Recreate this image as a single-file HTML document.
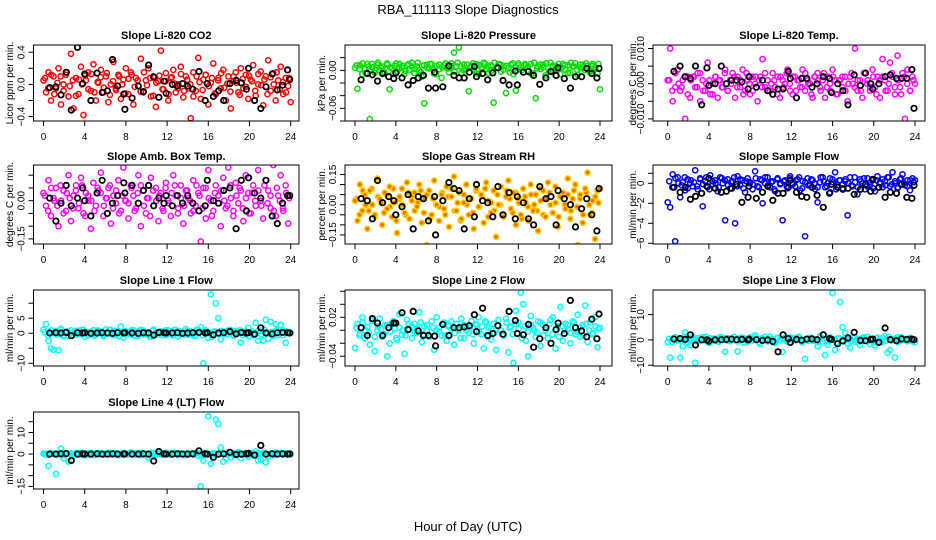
<!DOCTYPE html>
<html><head><meta charset="utf-8">
<style>
html,body{margin:0;padding:0;background:#fff;}
svg{display:block;font-family:"Liberation Sans",Arial,sans-serif;}
</style></head>
<body>
<svg id="chart" width="936" height="540" viewBox="0 0 936 540">
<text x="468" y="14" text-anchor="middle" font-size="13">RBA_111113  Slope Diagnostics</text>
<text x="468" y="531" text-anchor="middle" font-size="13">Hour of Day (UTC)</text>
</svg>
<script>
const xTicks = [0,4,8,12,16,20,24];
const blackHours = [0.6,1.2,1.7,2.2,2.7,3.3,3.8,4.0,4.6,5.2,5.7,6.2,6.7,7.2,7.8,7.9,8.6,9.2,9.7,10.2,10.7,11.2,11.7,11.9,12.5,13.0,13.5,14.0,14.5,15.1,15.7,15.9,16.5,17.0,17.5,18.1,18.7,19.2,19.7,19.9,20.5,21.1,21.6,22.2,22.7,23.2,23.7,23.9];
const sampleCount = 100;
const coreCount = 80;

const co2 = [0.05,-0.1,0.15,-0.2,0.1,-0.05,0.2,-0.25,0.0,0.12,-0.15,0.38,-0.3,0.08,-0.12,0.22,-0.38,0.05,0.15,-0.08,0.25,-0.2,0.02,0.18,-0.1,0.1,-0.22,0.0,0.28,-0.05,0.12,-0.18,0.06,0.2,-0.12,0.15,-0.25,0.08,-0.02,0.32,-0.1,0.05,0.2,-0.15,0.1,-0.28,0.04,0.42,-0.06,0.14,-0.2,0.08,0.18,-0.1,0.0,0.22,-0.16,0.1,-0.05,-0.42,0.15,-0.08,0.33,-0.18,0.06,0.12,-0.25,0.02,0.26,-0.12,0.08,-0.05,0.18,-0.2,0.1,-0.3,0.04,0.15,-0.1,0.2,-0.05,0.12,-0.18,0.06,0.24,-0.14,0.0,0.16,-0.26,0.1,0.3,-0.08,0.14,-0.2,0.05,0.22,-0.12,0.08,-0.02,-0.22];
const co2Core = [0.08,-0.05,0.12,-0.12,0.02,0.1,-0.08,0.15,-0.02,0.05,-0.14,0.06,0.0,0.11,-0.06,0.13,-0.1,0.03,0.09,-0.04,0.14,-0.13,0.04,-0.07,0.1,0.0,-0.11,0.07,0.12,-0.03,0.05,-0.09,0.15,-0.01,0.08,-0.14,0.02,0.11,-0.06,0.04,-0.12,0.09,0.01,-0.05,0.13,-0.08,0.06,0.0,-0.15,0.1,0.03,-0.07,0.12,-0.02,0.08,-0.11,0.05,0.14,-0.04,0.01,-0.09,0.1,0.02,-0.13,0.07,-0.03,0.11,0.04,-0.08,0.13,-0.01,0.06,-0.12,0.09,0.0,0.15,-0.06,0.03,-0.1,0.08];
const co2Black = [-0.04,-0.03,-0.13,0.15,-0.32,0.46,0.01,0.13,-0.2,0.14,-0.1,-0.08,0.31,-0.02,-0.12,-0.31,-0.17,-0.02,-0.09,0.24,0.09,-0.16,0.04,-0.11,0.0,-0.02,0.01,-0.02,-0.06,0.16,-0.2,0.01,-0.15,-0.08,-0.2,0.01,0.05,0.02,-0.06,0.2,-0.2,-0.3,-0.03,0.13,-0.07,-0.01,0.18,0.06];

const press = [0.004,-0.029,0.008,-0.006,0.002,0.01,-0.077,0.005,-0.004,0.009,0.0,0.006,-0.005,0.011,-0.03,0.003,0.007,-0.002,0.01,0.004,-0.006,0.008,0.001,0.012,-0.004,0.006,0.0,-0.01,-0.052,0.009,0.003,0.01,-0.005,0.007,0.002,-0.012,0.008,0.004,-0.003,0.011,0.028,0.006,0.036,-0.004,0.009,0.002,-0.033,0.007,0.0,0.01,-0.006,0.005,0.012,0.002,-0.004,0.008,-0.051,0.004,0.01,-0.002,0.007,-0.036,0.003,0.009,-0.006,-0.032,0.011,0.005,-0.003,0.008,0.0,0.01,-0.005,-0.044,0.006,0.002,0.009,-0.008,0.004,0.012,-0.002,0.007,0.003,-0.006,0.01,0.001,0.008,-0.004,0.006,0.011,-0.007,0.004,0.009,0.0,0.007,-0.003,0.01,0.005,-0.005,-0.03];
const pressCore = [0.008,0.002,0.011,-0.004,0.006,0.01,0.0,0.012,0.004,-0.002,0.009,0.005,-0.005,0.011,0.003,0.007,-0.001,0.01,0.006,0.002,0.012,-0.003,0.008,0.004,0.01,0.001,-0.006,0.009,0.005,0.011,0.003,0.007,-0.002,0.012,0.006,0.0,0.009,0.004,0.011,-0.004,0.008,0.002,0.01,0.006,-0.001,0.012,0.005,0.009,0.001,0.007,-0.003,0.011,0.004,0.008,0.0,0.01,0.006,-0.005,0.012,0.003,0.009,0.005,0.011,-0.002,0.007,0.002,0.01,0.004,0.008,-0.004,0.012,0.006,0.001,0.009,0.005,0.011,-0.001,0.007,0.003,0.01];
const pressBlack = [-0.015,-0.005,-0.007,-0.017,-0.005,-0.01,-0.013,-0.004,-0.012,-0.023,-0.016,-0.012,-0.008,-0.028,-0.003,-0.028,-0.026,0.007,-0.008,-0.012,-0.012,-0.003,0.006,-0.01,-0.005,-0.015,-0.004,0.004,-0.016,-0.023,-0.001,-0.023,-0.003,-0.002,-0.008,-0.022,-0.012,-0.002,-0.008,0.004,-0.013,-0.028,-0.01,-0.01,0.003,-0.005,-0.012,0.003];

const temp = [0.001,0.01,-0.005,-0.001,0.004,-0.002,0.001,-0.01,0.002,-0.004,0.002,-0.001,0.003,-0.005,0.001,-0.002,0.006,-0.003,0.0,0.002,-0.004,0.001,-0.001,0.004,-0.002,0.001,0.003,-0.004,0.002,-0.001,0.004,-0.002,0.001,-0.003,0.002,0.0,-0.005,0.002,0.007,-0.001,0.001,-0.002,0.003,-0.001,0.002,-0.004,0.001,0.0,0.004,-0.002,-0.003,0.002,0.001,-0.001,0.004,-0.002,0.001,0.0,-0.004,0.002,0.003,-0.001,0.001,-0.004,0.002,-0.002,0.004,0.001,-0.003,0.001,-0.001,0.002,-0.005,0.002,0.0,0.01,-0.002,0.001,-0.004,0.003,0.001,-0.002,0.004,-0.001,0.002,-0.004,0.007,0.001,-0.002,0.006,0.002,-0.003,0.008,-0.001,0.003,-0.01,0.004,-0.002,0.002,0.0];
const tempCore = [0.001,-0.002,0.003,0.0,-0.001,0.002,-0.003,0.001,0.002,-0.001,0.003,-0.002,0.0,0.001,-0.003,0.002,0.001,-0.001,0.003,-0.002,0.0,0.002,-0.001,0.001,-0.003,0.003,0.0,-0.002,0.002,0.001,-0.001,0.003,-0.002,0.0,0.001,-0.003,0.002,-0.001,0.003,0.0,0.002,-0.002,0.001,-0.001,0.003,0.0,-0.003,0.002,0.001,-0.002,0.003,-0.001,0.0,0.002,-0.003,0.001,0.002,-0.002,0.0,0.003,-0.001,0.001,-0.002,0.003,0.0,-0.001,0.002,-0.003,0.001,0.002,-0.002,0.0,0.003,-0.001,0.001,-0.003,0.002,0.0,-0.002,0.001];
const tempBlack = [0.0035,0.005,0.002,0.0015,0.005,-0.006,0.0045,-0.0005,0.0,0.005,0.0,0.001,0.001,0.0005,-0.0015,0.002,-0.001,0.001,-0.002,-0.003,-0.0015,-0.0015,0.0035,0.0015,-0.004,0.0015,0.0015,-0.001,0.0,0.002,0.0015,-0.0025,0.0,-0.002,-0.006,0.0025,-0.0005,0.003,0.0,-0.0015,0.0,0.002,0.0025,0.0015,0.0015,0.0015,0.004,-0.007];

const amb = [0.03,-0.02,0.08,-0.06,0.01,0.05,-0.1,0.0,0.04,-0.04,0.1,-0.08,0.02,0.06,-0.03,0.09,-0.05,0.03,0.0,-0.11,0.07,-0.02,0.04,0.11,-0.06,0.01,0.05,-0.09,0.02,-0.01,0.08,-0.04,0.13,0.0,-0.07,0.06,0.02,-0.03,0.1,-0.1,0.04,-0.05,0.01,0.09,-0.02,0.05,-0.08,0.03,-0.04,0.07,0.0,-0.06,0.1,0.02,-0.03,0.06,-0.09,0.04,0.01,-0.05,0.08,-0.02,0.03,-0.16,0.05,-0.07,0.12,0.0,-0.04,0.06,0.02,-0.1,0.09,-0.03,0.13,0.01,-0.06,0.07,-0.01,0.04,-0.08,0.1,0.03,-0.05,0.06,-0.02,0.12,0.0,-0.07,0.08,0.04,-0.03,0.14,-0.06,0.02,0.1,-0.04,0.06,-0.09,0.17];
const ambCore = [0.02,-0.04,0.05,0.0,-0.02,0.06,-0.05,0.03,0.01,-0.03,0.04,-0.01,0.06,-0.06,0.02,0.0,-0.04,0.05,0.03,-0.02,0.01,0.06,-0.03,0.04,-0.05,0.02,0.0,-0.01,0.05,-0.04,0.03,0.06,-0.02,0.01,-0.06,0.04,0.0,0.02,-0.03,0.05,-0.01,0.03,0.06,-0.05,0.01,-0.02,0.04,0.0,-0.04,0.06,0.02,-0.03,0.05,0.01,-0.06,0.03,-0.01,0.04,0.0,-0.02,0.06,-0.04,0.02,0.05,-0.03,0.01,-0.05,0.03,0.0,0.04,-0.02,0.06,-0.01,0.02,-0.04,0.05,0.0,-0.03,0.03,0.01];
const ambBlack = [0.01,-0.08,-0.01,0.06,-0.02,0.01,0.05,0.0,-0.06,0.03,0.08,-0.05,-0.01,0.02,0.07,0.03,0.06,-0.01,0.04,0.06,-0.02,0.01,-0.01,0.02,-0.02,0.02,-0.01,0.02,-0.01,-0.04,-0.02,0.08,0.0,-0.01,0.04,0.05,-0.11,0.08,-0.04,0.09,0.03,0.01,0.08,-0.06,-0.09,-0.01,0.02,0.02];

const rh = [0.02,-0.08,0.1,-0.03,0.05,-0.12,0.07,0.0,-0.05,0.13,0.03,-0.1,0.06,-0.02,0.09,-0.06,0.01,-0.14,0.04,0.08,-0.04,0.11,-0.07,0.02,0.06,-0.01,0.1,-0.09,0.03,-0.2,0.07,-0.05,0.12,0.0,-0.08,0.05,-0.02,0.09,-0.11,0.04,0.14,-0.03,0.06,-0.07,0.01,0.1,-0.05,0.03,-0.12,0.08,-0.01,0.05,-0.09,0.11,0.02,-0.04,0.07,-0.16,0.0,0.09,-0.06,0.04,0.12,-0.02,0.06,-0.1,0.03,-0.05,0.08,0.01,-0.08,0.1,-0.03,0.05,-0.13,0.02,0.07,-0.06,0.11,0.0,-0.04,0.09,-0.11,0.04,0.06,-0.02,0.13,-0.07,0.03,0.1,-0.2,0.05,-0.09,0.08,0.16,-0.05,0.02,-0.17,0.07,0.08];
const rhCore = [0.03,-0.05,0.07,0.0,-0.03,0.08,-0.06,0.04,0.01,-0.04,0.05,-0.01,0.08,-0.08,0.03,0.0,-0.05,0.06,0.04,-0.03,0.01,0.07,-0.04,0.05,-0.07,0.03,0.0,-0.01,0.06,-0.05,0.04,0.08,-0.03,0.01,-0.08,0.05,0.0,0.03,-0.04,0.07,-0.01,0.04,0.08,-0.06,0.01,-0.03,0.05,0.0,-0.05,0.07,0.03,-0.04,0.06,0.01,-0.07,0.04,-0.01,0.05,0.0,-0.03,0.08,-0.05,0.03,0.06,-0.04,0.01,-0.06,0.04,0.0,0.05,-0.03,0.07,-0.01,0.03,-0.05,0.06,0.0,-0.04,0.04,0.01];
const rhBlack = [0.03,0.02,-0.07,0.12,0.01,0.04,0.02,-0.05,-0.01,0.05,-0.12,0.04,0.03,-0.08,0.04,-0.15,0.02,0.11,0.08,0.07,-0.12,0.03,-0.06,0.1,0.02,0.01,-0.06,0.09,-0.05,0.06,-0.07,0.04,0.01,-0.07,-0.1,0.09,0.03,0.04,-0.1,0.07,0.03,0.0,-0.11,-0.02,0.03,-0.05,-0.13,0.08];

const flow = [-1.9,-2.4,0.9,-5.8,0.6,-1.4,0.1,-0.7,0.4,0.0,-0.3,1.3,-0.6,0.5,-2.3,0.2,-0.4,0.8,-0.1,0.3,-0.8,0.6,0.0,-3.7,0.4,-0.5,0.2,-4.0,0.7,-0.2,0.3,-0.9,0.5,0.1,-0.6,1.2,-0.3,0.4,-2.0,0.0,0.6,-0.4,0.2,-0.8,0.5,-0.1,-3.7,0.3,-0.5,0.7,0.0,-0.3,0.4,-0.7,0.2,-5.3,0.5,-0.2,0.3,-0.6,-1.9,0.1,0.6,-0.4,0.0,-0.9,0.4,1.1,-0.2,0.3,-0.5,0.2,-3.2,0.6,-0.3,0.1,-1.1,0.4,0.0,-0.6,0.5,-0.2,0.3,-0.8,0.7,0.1,-0.4,0.2,0.6,-0.3,1.1,0.0,-0.5,0.4,0.9,-0.2,0.3,-0.7,0.5,0.3];
const flowCore = [0.2,-0.4,0.5,0.0,-0.2,0.6,-0.5,0.3,0.1,-0.3,0.4,-0.1,0.6,-0.6,0.2,0.0,-0.4,0.5,0.3,-0.2,0.1,0.6,-0.3,0.4,-0.5,0.2,0.0,-0.1,0.5,-0.4,0.3,0.6,-0.2,0.1,-0.6,0.4,0.0,0.2,-0.3,0.5,-0.1,0.3,0.6,-0.5,0.1,-0.2,0.4,0.0,-0.4,0.6,0.2,-0.3,0.5,0.1,-0.6,0.3,-0.1,0.4,0.0,-0.2,0.6,-0.4,0.2,0.5,-0.3,0.1,-0.5,0.3,0.0,0.4,-0.2,0.6,-0.1,0.2,-0.4,0.5,0.0,-0.3,0.3,0.1];
const flowBlack = [-0.4,-0.9,-0.4,-1.6,-1.3,-1.0,-0.3,0.5,-0.5,-0.9,-0.8,-0.5,-0.1,-1.9,-1.4,-0.3,-1.5,-0.9,-0.3,-1.7,-1.0,-1.0,-0.4,0.3,-0.9,-1.3,-1.4,-0.4,-1.2,-2.4,-1.0,-0.1,-0.4,-0.6,-0.5,-1.1,-0.6,-0.1,-0.8,0.4,-0.4,-1.4,-0.9,-1.0,-0.1,-1.4,-1.5,-0.2];

const line1 = [1.2,3.0,-2.5,-5.0,-5.5,0.8,-5.6,1.5,-0.6,0.3,-0.8,1.0,0.2,-0.5,0.9,-0.3,1.2,0.0,-0.7,0.5,1.0,-0.4,0.6,0.1,-0.9,1.3,0.2,-0.3,0.8,-0.6,0.4,2.2,-1.5,0.7,0.0,-0.5,1.1,0.3,-0.8,0.6,0.9,-0.2,0.4,-1.0,1.2,0.1,-0.4,0.7,0.0,-0.6,1.0,0.3,-0.7,0.5,0.8,-0.3,0.2,1.4,-0.5,0.6,0.0,-0.9,1.1,2.0,-10.0,0.4,-1.5,13.0,0.5,10.0,5.0,-2.0,0.6,-0.3,1.0,0.2,-0.6,0.8,0.0,-3.0,0.5,-0.4,1.8,0.2,-0.7,3.5,-2.5,0.9,-2.4,4.5,-1.8,3.8,0.5,3.0,-0.6,2.8,1.0,-3.2,0.4,0.2];
const line1Core = [0.4,-0.8,1.0,0.0,-0.4,1.2,-1.0,0.6,0.2,-0.6,0.8,-0.2,1.2,-1.2,0.4,0.0,-0.8,1.0,0.6,-0.4,0.2,1.2,-0.6,0.8,-1.0,0.4,0.0,-0.2,1.0,-0.8,0.6,1.2,-0.4,0.2,-1.2,0.8,0.0,0.4,-0.6,1.0,-0.2,0.6,1.2,-1.0,0.2,-0.4,0.8,0.0,-0.8,1.2,0.4,-0.6,1.0,0.2,-1.2,0.6,-0.2,0.8,0.0,-0.4,1.2,-0.8,0.4,1.0,-0.6,0.2,-1.0,0.6,0.0,0.8,-0.4,1.2,-0.2,0.4,-0.8,1.0,0.0,-0.6,0.6,0.2];
const line1Black = [0.1,0.2,0.1,0.3,-0.8,0.2,0.1,0.2,0.0,0.1,0.2,0.1,0.0,0.2,0.1,0.2,0.1,0.0,0.2,0.1,-0.6,0.3,0.2,0.1,0.1,0.2,0.0,0.1,0.2,0.3,0.1,0.2,-0.5,0.1,0.2,0.6,-0.2,0.3,0.1,0.2,-0.3,1.8,0.1,-0.2,0.2,0.3,0.2,0.1];

const line2 = [-0.027,0.01,-0.005,0.02,-0.012,0.005,-0.022,0.015,-0.032,0.0,0.018,-0.01,0.008,-0.04,-0.02,0.012,0.003,-0.015,0.025,-0.007,-0.036,0.016,0.002,-0.012,0.01,-0.004,0.028,-0.018,0.006,0.0,-0.01,0.014,-0.03,0.02,0.004,-0.008,0.012,-0.016,0.008,0.002,-0.022,0.01,0.0,0.018,-0.012,0.006,-0.004,0.014,-0.02,0.008,0.02,-0.006,-0.028,0.012,0.004,-0.014,0.01,-0.03,0.016,0.0,-0.008,0.018,-0.034,0.006,-0.05,0.03,0.012,0.058,0.04,-0.016,-0.04,0.022,0.004,-0.01,0.014,-0.024,0.008,0.0,-0.012,0.016,0.02,-0.028,0.006,0.036,-0.016,0.01,0.002,-0.02,0.014,-0.006,0.024,-0.01,0.008,0.038,-0.018,0.012,-0.004,0.02,-0.026,0.004];
const line2Core = [0.004,-0.008,0.012,0.0,-0.004,0.014,-0.01,0.006,0.002,-0.006,0.008,-0.002,0.014,-0.012,0.004,0.0,-0.008,0.01,0.006,-0.004,0.002,0.012,-0.006,0.008,-0.01,0.004,0.0,-0.002,0.01,-0.008,0.006,0.014,-0.004,0.002,-0.012,0.008,0.0,0.004,-0.006,0.01,-0.002,0.006,0.014,-0.01,0.002,-0.004,0.008,0.0,-0.008,0.012,0.004,-0.006,0.01,0.002,-0.012,0.006,-0.002,0.008,0.0,-0.004,0.012,-0.008,0.004,0.01,-0.006,0.002,-0.01,0.006,0.0,0.008,-0.004,0.012,-0.002,0.004,-0.008,0.01,0.0,-0.006,0.006,0.002];
const line2Black = [0.004,-0.008,0.018,0.011,-0.008,0.004,0.011,0.011,0.027,0.001,0.029,-0.001,-0.008,-0.008,-0.009,-0.024,0.009,-0.008,0.004,0.004,0.005,0.007,0.024,-0.002,0.034,-0.008,-0.005,0.007,-0.006,0.029,0.015,-0.005,-0.007,0.009,-0.026,-0.013,0.004,-0.02,0.001,0.011,-0.005,0.046,0.004,-0.001,-0.01,0.017,-0.013,0.025];

const line3 = [-0.8,-7.0,0.5,1.0,-0.3,-7.0,-2.5,3.0,0.4,-2.0,1.2,-9.0,0.6,-0.4,1.0,0.2,-0.9,0.7,-0.2,0.5,-0.6,1.1,0.0,-4.7,0.8,-0.5,0.3,-0.2,-4.5,0.6,0.9,0.1,-0.7,1.0,-0.2,1.8,0.3,-1.5,0.5,0.0,-0.6,1.2,0.2,-0.8,0.6,0.0,-4.7,0.9,-0.4,0.3,0.7,-0.2,1.0,0.1,-0.5,-7.5,0.4,0.8,-0.3,0.2,-2.5,1.5,-0.6,-6.0,-2.0,0.5,18.5,-4.0,0.6,15.0,5.0,2.8,-1.5,-3.0,1.0,-0.8,0.3,-2.0,0.7,-0.4,1.2,-1.6,0.2,-2.2,0.9,-0.3,-0.8,1.4,-5.0,-4.0,0.4,-7.0,1.0,-0.5,0.6,0.2,-0.3,0.8,-0.6,-0.9];
const line3Core = [0.4,-0.8,1.0,0.0,-0.4,1.2,-1.0,0.6,0.2,-0.6,0.8,-0.2,1.2,-1.2,0.4,0.0,-0.8,1.0,0.6,-0.4,0.2,1.2,-0.6,0.8,-1.0,0.4,0.0,-0.2,1.0,-0.8,0.6,1.2,-0.4,0.2,-1.2,0.8,0.0,0.4,-0.6,1.0,-0.2,0.6,1.2,-1.0,0.2,-0.4,0.8,0.0,-0.8,1.2,0.4,-0.6,1.0,0.2,-1.2,0.6,-0.2,0.8,0.0,-0.4,1.2,-0.8,0.4,1.0,-0.6,0.2,-1.0,0.6,0.0,0.8,-0.4,1.2,-0.2,0.4,-0.8,1.0,0.0,-0.6,0.6,0.2];
const line3Black = [0.3,0.5,0.2,2.0,-2.0,0.1,0.0,-0.5,0.0,0.1,0.2,0.3,0.1,0.2,0.0,0.3,0.1,-0.2,0.0,-0.6,-4.7,2.0,0.5,-1.0,0.2,-0.1,0.3,0.4,0.1,2.0,0.5,0.2,-1.5,-0.4,0.8,3.0,-0.2,-0.3,0.2,0.3,-1.0,4.7,0.1,-0.3,0.4,0.2,0.3,0.1];

const line4 = [0.2,-0.3,-5.5,0.4,0.1,-9.2,0.2,2.5,-2.0,0.6,-3.5,0.3,-0.8,0.2,0.5,-0.4,0.1,0.3,-0.2,0.6,-0.5,0.2,0.0,0.4,-0.3,0.1,0.5,-0.2,0.3,-0.4,0.2,0.0,0.6,-0.3,0.1,0.8,-0.2,0.4,0.0,-0.5,0.3,-0.1,-1.5,0.5,0.2,-0.3,0.1,0.4,-0.2,0.0,0.3,-0.4,0.5,0.1,-0.2,0.3,0.0,-0.5,0.4,0.2,-0.3,0.6,-0.8,-15.0,-3.0,0.5,17.5,-4.5,0.3,16.0,14.0,3.0,-3.5,-2.0,0.8,-1.5,0.4,-0.6,0.9,-2.0,-0.3,0.5,-1.0,0.2,-0.4,1.2,-3.0,-2.5,0.6,-3.8,-1.0,0.4,-0.5,0.7,0.2,0.6,-0.3,0.4,0.1,-0.2];
const line4Core = [0.2,-0.4,0.5,0.0,-0.2,0.6,-0.5,0.3,0.1,-0.3,0.4,-0.1,0.6,-0.6,0.2,0.0,-0.4,0.5,0.3,-0.2,0.1,0.6,-0.3,0.4,-0.5,0.2,0.0,-0.1,0.5,-0.4,0.3,0.6,-0.2,0.1,-0.6,0.4,0.0,0.2,-0.3,0.5,-0.1,0.3,0.6,-0.5,0.1,-0.2,0.4,0.0,-0.4,0.6,0.2,-0.3,0.5,0.1,-0.6,0.3,-0.1,0.4,0.0,-0.2,0.6,-0.4,0.2,0.5,-0.3,0.1,-0.5,0.3,0.0,0.4,-0.2,0.6,-0.1,0.2,-0.4,0.5,0.0,-0.3,0.3,0.1];
const line4Black = [0.0,0.0,0.1,0.2,-3.0,0.0,0.1,0.0,0.0,0.1,0.0,0.0,0.1,0.0,0.0,0.1,0.0,0.0,0.1,0.0,-3.2,1.2,0.1,0.0,0.0,0.1,0.0,0.0,0.1,1.5,0.1,0.0,-1.5,0.0,0.1,0.8,-0.2,0.0,0.1,0.3,-0.5,4.0,0.0,0.1,0.0,0.1,0.0,0.1];

const sampleHours = [];
for (let i = 0; i < sampleCount; i++) sampleHours.push(i * 24 / (sampleCount - 1));
const coreHours = [];
for (let i = 0; i < coreCount; i++) coreHours.push(0.15 + i * 23.7 / (coreCount - 1));

const cols = [{l:33.5,r:299,x0:43.5,x1:290.7,yt:10},{l:345,r:612,x0:355,x1:600,yt:322},{l:653,r:925,x0:667.7,x1:915,yt:633}];
const rows = [{t:45,b:121,title:35},{t:165,b:244,title:156},{t:290,b:366,title:280},{t:412,b:489,title:402}];

const panels = [
 {name:'co2',title:'Slope Li-820 CO2',ylab:'Licor ppm per min.',c:0,r:0,ymin:-0.455,ymax:0.49,ticks:[-0.4,-0.2,0,0.2,0.4],labels:{'-0.4':'-0.4','0':'0.0','0.4':'0.4'},col:'#ff0000',fill:'none',v:co2,w:co2Core,k:co2Black},
 {name:'pressure',title:'Slope Li-820 Pressure',ylab:'kPa per min.',c:1,r:0,ymin:-0.08,ymax:0.04,ticks:[-0.08,-0.06,-0.04,-0.02,0,0.02],labels:{'-0.06':'-0.06','0':'0.00'},col:'#00e000',fill:'none',v:press,w:pressCore,k:pressBlack},
 {name:'li820-temp',title:'Slope Li-820 Temp.',ylab:'degrees C per min.',c:2,r:0,ymin:-0.0106,ymax:0.011,ticks:[-0.01,-0.005,0,0.005,0.01],labels:{'-0.01':'-0.010','0':'0.000','0.01':'0.010'},col:'#ff00ff',fill:'none',v:temp,w:tempCore,k:tempBlack},
 {name:'amb-box-temp',title:'Slope Amb. Box Temp.',ylab:'degrees C per min.',c:0,r:1,ymin:-0.17,ymax:0.14,ticks:[-0.15,-0.1,-0.05,0,0.05,0.1],labels:{'-0.15':'-0.15','0':'0.00'},col:'#ff00ff',fill:'none',v:amb,w:ambCore,k:ambBlack},
 {name:'gas-stream-rh',title:'Slope Gas Stream RH',ylab:'percent per min.',c:1,r:1,ymin:-0.195,ymax:0.197,ticks:[-0.15,-0.1,-0.05,0,0.05,0.1,0.15],labels:{'-0.15':'-0.15','0':'0.00','0.15':'0.15'},col:'#ffd000',fill:'#f07000',v:rh,w:rhCore,k:rhBlack},
 {name:'sample-flow',title:'Slope Sample Flow',ylab:'ml/min per min.',c:2,r:1,ymin:-6.07,ymax:1.83,ticks:[-6,-4,-2,0,1],labels:{'-6':'-6','-4':'-4','-2':'-2','0':'0'},col:'#0000ff',fill:'none',v:flow,w:flowCore,k:flowBlack},
 {name:'line1-flow',title:'Slope Line 1 Flow',ylab:'ml/min per min.',c:0,r:2,ymin:-10.9,ymax:14.4,ticks:[-10,-5,0,5,10],labels:{'-10':'-10','0':'0','5':'5'},col:'#00ffff',fill:'none',v:line1,w:line1Core,k:line1Black},
 {name:'line2-flow',title:'Slope Line 2 Flow',ylab:'ml/min per min.',c:1,r:2,ymin:-0.055,ymax:0.062,ticks:[-0.04,-0.02,0,0.02,0.04,0.06],labels:{'-0.04':'-0.04','0.02':'0.02'},col:'#00ffff',fill:'none',v:line2,w:line2Core,k:line2Black},
 {name:'line3-flow',title:'Slope Line 3 Flow',ylab:'ml/min per min.',c:2,r:2,ymin:-10.3,ymax:19.7,ticks:[-10,0,10],labels:{'-10':'-10','0':'0','10':'10'},col:'#00ffff',fill:'none',v:line3,w:line3Core,k:line3Black},
 {name:'line4-flow',title:'Slope Line 4 (LT) Flow',ylab:'ml/min per min.',c:0,r:3,ymin:-16.2,ymax:19.5,ticks:[-15,-10,-5,0,5,10,15],labels:{'-15':'-15','0':'0','10':'10'},col:'#00ffff',fill:'none',v:line4,w:line4Core,k:line4Black}
];

const svg = document.getElementById('chart');
const NS = 'http://www.w3.org/2000/svg';
function mk(tag, attrs, parent){ const e=document.createElementNS(NS,tag); for(const a in attrs) e.setAttribute(a,attrs[a]); parent.appendChild(e); return e; }

panels.forEach(p => {
  const C = cols[p.c], R = rows[p.r];
  const g = mk('g',{},svg);
  
  
  const xs = h => C.x0 + (h/24)*(C.x1-C.x0);
  const ys = v => R.b - (v-p.ymin)/(p.ymax-p.ymin)*(R.b-R.t);
  const clip = 'clip-'+p.name;
  const cp = mk('clipPath',{id:clip},g);
  mk('rect',{x:C.l,y:R.t,width:C.r-C.l,height:R.b-R.t},cp);
  const t = mk('text',{x:(C.l+C.r)/2,y:R.title+4,'text-anchor':'middle','font-size':'11','font-weight':'bold'},g);
  t.textContent = p.title;
  
  
  const yl = mk('text',{x:C.yt,y:(R.t+R.b)/2,'text-anchor':'middle','font-size':'10',transform:'rotate(-90 '+C.yt+' '+((R.t+R.b)/2)+')',dy:'3'},g);
  yl.textContent = p.ylab;
  
  
  const pg = mk('g',{'clip-path':'url(#'+clip+')'},g);
  
  
  p.w.forEach((v,i) => {
    const c = mk('circle',{cx:xs(coreHours[i]).toFixed(1),cy:ys(v).toFixed(1),r:2.6,fill:p.fill,stroke:p.col,'stroke-width':1.5},pg);
    
    
  });
  p.v.forEach((v,i) => {
    const c = mk('circle',{cx:xs(sampleHours[i]).toFixed(1),cy:ys(v).toFixed(1),r:2.6,fill:p.fill,stroke:p.col,'stroke-width':1.5},pg);
    
    
  });
  p.k.forEach((v,i) => {
    const c = mk('circle',{cx:xs(blackHours[i]).toFixed(1),cy:ys(v).toFixed(1),r:2.7,fill:'none',stroke:'#000','stroke-width':1.8},pg);
    
    
  });
  const bx = mk('rect',{x:C.l,y:R.t,width:C.r-C.l,height:R.b-R.t,fill:'none',stroke:'#000','stroke-width':1},g);
  
  
  xTicks.forEach(h => {
    const x = xs(h);
    mk('line',{x1:x,x2:x,y1:R.b,y2:R.b+5,stroke:'#000'},g);
    const tl = mk('text',{x:x,y:R.b+19,'text-anchor':'middle','font-size':'10'},g);
    tl.textContent = h;
    
    
  });
  p.ticks.forEach(v => {
    const y = ys(v);
    mk('line',{x1:C.l-5,x2:C.l,y1:y,y2:y,stroke:'#000'},g);
    const lab = p.labels[String(v)];
    if (lab !== undefined) {
      const lx = C.l - 9;
      const tl = mk('text',{x:lx,y:y,'text-anchor':'middle','font-size':'10',transform:'rotate(-90 '+lx+' '+y+')'},g);
      tl.textContent = lab.replace('-','\u2212');
      
      
    }
  });
});
</script>
</body></html>
